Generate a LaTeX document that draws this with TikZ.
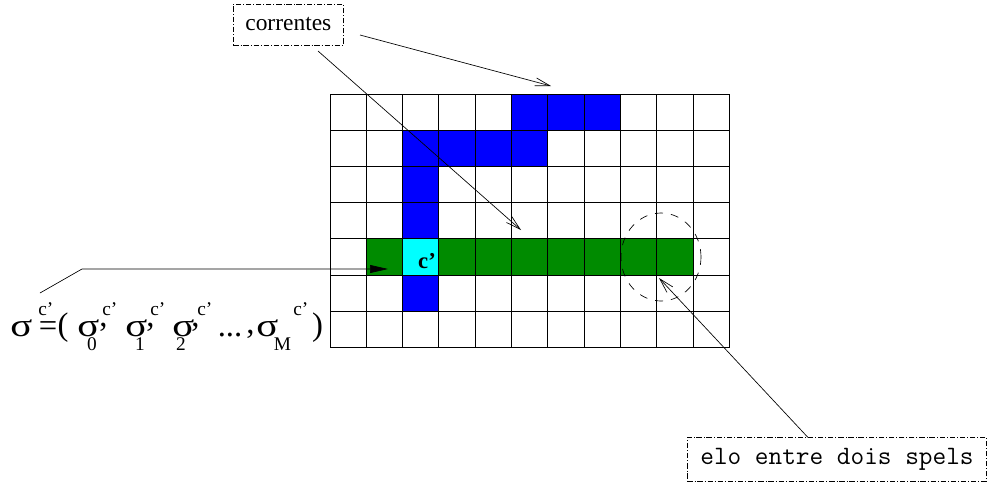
\documentclass[tikz,border=0pt]{standalone}
\usepackage{fontspec}
\usepackage{graphicx}
\setmainfont{Liberation Serif}
\usetikzlibrary{arrows.meta,calc}
\definecolor{cellblue}{RGB}{0,0,255}
\definecolor{cellgreen}{RGB}{0,139,0}
\definecolor{cellcyan}{RGB}{0,255,255}
\newcommand\cellfill[3]{\fill[#1] (330+#2*36.3, 94+#3*36.24) rectangle ++(36.3,36.24);}
\newcommand\widesigma{\scalebox{1.25}[1]{σ}}
\begin{document}
\begin{tikzpicture}[x=0.75pt,y=-0.75pt,
 label box/.style={draw, dash pattern=on 4pt off 1.5pt on 0.6pt off 1.5pt, line width=0.5pt, inner ysep=0, anchor=west},
 pointer/.style={line width=0.5pt, -{Straight Barb[length=11pt,width=6pt]}},
 big/.style={font=\fontsize{24.5}{24.5}\selectfont, inner sep=0, anchor=base},
 small/.style={font=\fontsize{14.5}{14.5}\selectfont, inner sep=0, anchor=base},
 sup/.style={small, anchor=base west},
 gridline/.style={line width=0.75pt, black},
]
\useasboundingbox (0,0) rectangle (997,486);
% coloured cells
\foreach \c in {5,6,7} {\cellfill{cellblue}{\c}{0}}
\foreach \c in {2,3,4,5} {\cellfill{cellblue}{\c}{1}}
\cellfill{cellblue}{2}{2}
\cellfill{cellblue}{2}{3}
\cellfill{cellblue}{2}{5}
\foreach \c in {1,3,4,5,6,7,8,9} {\cellfill{cellgreen}{\c}{4}}
\cellfill{cellcyan}{2}{4}
% grid
\foreach \i in {0,...,11} {\draw[gridline] (330+\i*36.3,94) -- (330+\i*36.3,347.68);}
\foreach \j in {0,...,7} {\draw[gridline] (330,94+\j*36.24) -- (729.3,94+\j*36.24);}
% c' label
\node[font=\bfseries\fontsize{17}{17}\selectfont, inner sep=0, anchor=base] (cp) at (427,268) {c’};
% dashed ellipse
\draw[dash pattern=on 6pt off 6pt, line width=0.5pt] (661,257) ellipse [x radius=30pt, y radius=33pt];
% label boxes
\node[label box, inner xsep=9pt, minimum height=30.75pt, font=\fontsize{17.6}{17.6}\selectfont] (cor) at (233,24.5) {correntes\hspace{8.5pt}};
\node[label box, inner xsep=9.75pt, minimum height=33pt, font=\ttfamily\fontsize{19.9}{19.9}\selectfont] (elo) at (687,459) {elo entre dois spels\hspace{20pt}};
% arrow end points
\coordinate (c1s) at (360,35);
\coordinate (c1e) at (551,86);
\coordinate (c2s) at (318,51);
\coordinate (c2e) at (521,230);
\coordinate (e1s) at (808,437.5);
\coordinate (e1e) at (659,278);
\coordinate (s1) at (40,293);
\coordinate (s2) at (82,269);
\coordinate (s3) at (388,269);
\draw[pointer] (c1s) -- (c1e);
\draw[pointer] (c2s) -- (c2e);
\draw[pointer] (e1s) -- (e1e);
\draw[line width=0.5pt, -{Triangle[length=13.5pt,width=6pt]}] (s1) -- (s2) -- (s3);
% formula
\node[big] (sg) at (21.5,336) {\widesigma};
\node[sup] (sgs) at (38,315) {c’};
\node[big] (eq) at (48,336) {=};
\node[big] (lp) at (63,335) {(};
\node[big] (sg0) at (88.5,336) {\widesigma};
\node[small] (sg0b) at (92,350) {0};
\node[sup] (sg0p) at (102,315) {c’};
\node[big] (cm0) at (103.5,326) {,};
\node[big] (sg1) at (136.5,336) {\widesigma};
\node[small] (sg1b) at (140,350) {1};
\node[sup] (sg1p) at (150,315) {c’};
\node[big] (cm1) at (150.5,326) {,};
\node[big] (sg2) at (183.5,336) {\widesigma};
\node[small] (sg2b) at (181,350) {2};
\node[sup] (sg2p) at (197,315) {c’};
\node[big] (cm2) at (195.5,326) {,};
\node[big] (dots) at (230,336) {...};
\node[big] (cm3) at (250.5,333) {,};
\node[big] (sgm) at (267.5,336) {\widesigma};
\node[small] (sgmb) at (282.5,350) {M};
\node[sup] (sgmp) at (293,315) {c’};
\node[big] (rp) at (317.5,335) {)};
\end{tikzpicture}
\end{document}
